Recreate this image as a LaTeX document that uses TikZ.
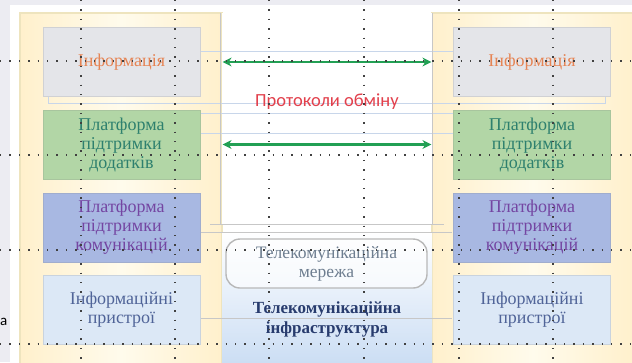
\documentclass[tikz,border=0pt]{standalone}
\usepackage{fontspec}
\setmainfont{Liberation Serif}
\newfontfamily\protfont{Carlito}
\usetikzlibrary{arrows.meta, calc}
\definecolor{TloSire}{RGB}{236,236,242}
\definecolor{StovpRamka}{RGB}{238,228,190}
\definecolor{StovpSvit}{RGB}{255,251,236}
\definecolor{StovpZhovt}{RGB}{255,240,204}
\definecolor{InfoFon}{RGB}{228,229,233}
\definecolor{InfoTekst}{RGB}{230,132,84}
\definecolor{DodFon}{RGB}{178,214,166}
\definecolor{DodTekst}{RGB}{46,128,110}
\definecolor{KomFon}{RGB}{168,184,226}
\definecolor{KomTekst}{RGB}{116,70,162}
\definecolor{PristFon}{RGB}{220,232,246}
\definecolor{PristTekst}{RGB}{80,100,152}
\definecolor{StrilkaZel}{RGB}{34,160,84}
\definecolor{ProtCherv}{RGB}{226,64,76}
\definecolor{MerTekst}{RGB}{110,126,144}
\definecolor{InfraTekst}{RGB}{40,60,110}
\definecolor{InfraBlak}{RGB}{204,222,244}
\definecolor{LiniaBlak}{RGB}{200,214,234}

\begin{document}
\begin{tikzpicture}[x=1pt, y=-1pt, >={Stealth[length=9pt, width=9pt]},
  stovp/.style={rectangle, draw=StovpRamka, line width=1.2pt, left color=StovpZhovt, right color=StovpZhovt, middle color=StovpSvit, minimum width=202pt, minimum height=362pt, inner sep=0pt},
  riven/.style={rectangle, draw=#1!80!gray, fill=#1, line width=1pt, minimum width=157pt, minimum height=69pt, align=center, inner sep=2pt, font=\fontsize{18}{19}\selectfont},
  strilka/.style={<->, draw=StrilkaZel, line width=2.6pt},
  sitka/.style={black!75, line width=1.3pt, dash pattern=on 1.3pt off 8.1pt},
  liniya/.style={draw=LiniaBlak, line width=0.8pt},
  siraliniya/.style={draw=black!22, line width=1pt}]
  \useasboundingbox (0,0) rectangle (632,362);
  \fill[TloSire] (0,0) rectangle (632,362);
  \fill[white] (10,5) rectangle (632,362);
  \node[anchor=west, inner sep=0pt, font=\protfont\fontsize{15}{15}\selectfont] (obriz) at (0,322) {а};
  % stovptsi
  \node[stovp] (stovpL) at (121,194) {};
  \node[stovp] (stovpR) at (533,194) {};
  % seredyna
  \fill[white] (222,13) rectangle (432,225);
  \shade[top color=white, bottom color=InfraBlak] (222,232) rectangle (432,362);
  \draw[liniya] (48,51) rectangle (605,103);
  \draw[liniya] (48,113) -- (605,113);
  \draw[liniya] (48,133) -- (605,133);
  \draw[siraliniya] (210,224) -- (444,224);
  \draw[siraliniya] (200,232) -- (452,232);
  \draw[siraliniya] (220,13) -- (220,224);
  \draw[siraliniya] (432,13) -- (432,224);
  \draw[siraliniya] (200,318) -- (452,318);
  % rivni
  \node[riven=InfoFon, text=InfoTekst] (infoL) at (121.5,62) {Інформація};
  \node[riven=DodFon, text=DodTekst] (dodL) at (121.5,144.5) {Платформа\\підтримки\\додатків};
  \node[riven=KomFon, text=KomTekst] (komL) at (121.5,227.5) {Платформа\\підтримки\\комунікацій};
  \node[riven=PristFon, text=PristTekst] (pristL) at (121.5,310) {Інформаційні\\пристрої};
  \node[riven=InfoFon, text=InfoTekst] (infoR) at (532,62) {Інформація};
  \node[riven=DodFon, text=DodTekst] (dodR) at (532,144.5) {Платформа\\підтримки\\додатків};
  \node[riven=KomFon, text=KomTekst] (komR) at (532,227.5) {Платформа\\підтримки\\комунікацій};
  \node[riven=PristFon, text=PristTekst] (pristR) at (532,310) {Інформаційні\\пристрої};
  % protokoly
  \draw[strilka] (stovpL.east |- infoL.center) -- (stovpR.west |- infoR.center);
  \draw[strilka] (stovpL.east |- dodL.center) -- (stovpR.west |- dodR.center);
  \node[text=ProtCherv, font=\protfont\fontsize{18.5}{20}\selectfont] (prot) at (327,102) {Протоколи обміну};
  \node[rectangle, rounded corners=14pt, draw=black!28, fill=white, fill opacity=0.6, text opacity=1, line width=1.4pt, minimum width=201pt, minimum height=49pt, inner sep=1pt, align=center, text=MerTekst, font=\fontsize{17.5}{19}\selectfont] (merezha) at (326.5,263.5) {Телекомунікаційна\\мережа};
  \node[align=center, text=InfraTekst, font=\bfseries\fontsize{17}{20}\selectfont] (infra) at (327,319) {Телекомунікаційна\\інфраструктура};
  % sitka
  \foreach \x in {81,175,269,364,459,553}
    \draw[sitka] (\x,0) -- (\x,362);
  \foreach \y in {61,155,250,344}
    \draw[sitka] (0,\y) -- (632,\y);
\end{tikzpicture}
\end{document}
